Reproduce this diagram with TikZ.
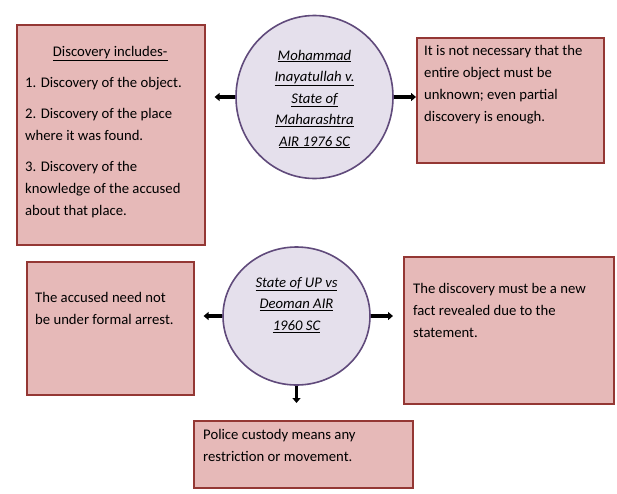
\documentclass[tikz,border=0pt]{standalone}
\usepackage{fontspec}
\setmainfont{Carlito}
\usetikzlibrary{shapes.geometric,arrows.meta}

\definecolor{boxfill}{RGB}{230,185,184}
\definecolor{boxline}{RGB}{148,55,52}
\definecolor{circfill}{RGB}{229,224,236}
\definecolor{circline}{RGB}{96,74,123}

\tikzset{
    notebox/.style = {draw = boxline, fill = boxfill, line width = 1.6pt,
        anchor = north west, inner sep = 0pt},
    notetext/.style = {anchor = north west, inner sep = 0pt, align = left,
        font = \fontsize{14.7}{22}\selectfont},
    casecirc/.style = {ellipse, draw = circline, fill = circfill,
        line width = 1.6pt, inner sep = 0pt},
    casetext/.style = {inner sep = 0pt, align = center,
        font = \fontsize{14.7}{21.5}\selectfont\itshape},
    arr/.style = {-{Triangle[length = 5pt, width = 8pt]}, line width = 3.6pt}
}

\begin{document}
\begin{tikzpicture}[x = 1pt, y = -1pt]
        \useasboundingbox[fill = white] (0, 0) rectangle (617, 493);

        % first case
        \node[casecirc, minimum width = 157pt, minimum height = 163pt] (inayat) at (314.5, 97) {};
        \node[casetext] (inayat-txt) at (314.5, 99) {\underline{Mohammad}\\ \underline{Inayatullah v.}\\
            \underline{State of}\\ \underline{Maharashtra}\\ \underline{AIR 1976 SC}};

        \node[notebox, minimum width = 188pt, minimum height = 220pt] (incl) at (16, 24) {};
        \node[notetext] (incl-txt) at (25, 46) {\makebox[170pt]{\underline{Discovery includes-}}\\[9pt]
            1. Discovery of the object.\\[9pt]
            2. Discovery of the place\\ where it was found.\\[9pt]
            3. Discovery of the\\ knowledge of the accused\\ about that place.};

        \node[notebox, minimum width = 187pt, minimum height = 125pt] (partial) at (416, 37) {};
        \node[notetext] (partial-txt) at (424, 45) {It is not necessary that the\\ entire object must be\\
            unknown; even partial\\ discovery is enough.};

        \draw[arr, shorten > = 9pt] (inayat.west) -- (inayat.west -| incl.east);
        \draw[arr] (inayat.east) -- (inayat.east -| partial.west);

        % second case
        \node[casecirc, minimum width = 147pt, minimum height = 138pt] (deoman) at (296.5, 316) {};
        \node[casetext] (deoman-txt) at (296.5, 305) {\underline{State of UP vs}\\ \underline{Deoman AIR}\\
            \underline{1960 SC}};

        \node[notebox, minimum width = 167pt, minimum height = 133pt] (arrest) at (26, 261) {};
        \node[notetext] (arrest-txt) at (35, 292) {The accused need not\\ be under formal arrest.};

        \node[notebox, minimum width = 210pt, minimum height = 147pt] (newfact) at (403, 256) {};
        \node[notetext] (newfact-txt) at (413, 283) {The discovery must be a new\\ fact revealed due to the\\
            statement.};

        \node[notebox, minimum width = 219pt, minimum height = 67pt] (custody) at (193, 420) {};
        \node[notetext] (custody-txt) at (203, 429) {Police custody means any\\ restriction or movement.};

        \draw[arr, shorten > = 9pt] (deoman.west) -- (deoman.west -| arrest.east);
        \draw[arr, shorten > = 10pt] (deoman.east) -- (deoman.east -| newfact.west);
        \draw[arr, shorten > = 17pt] (deoman.south) -- (deoman.south |- custody.north);
    \end{tikzpicture}
\end{document}
